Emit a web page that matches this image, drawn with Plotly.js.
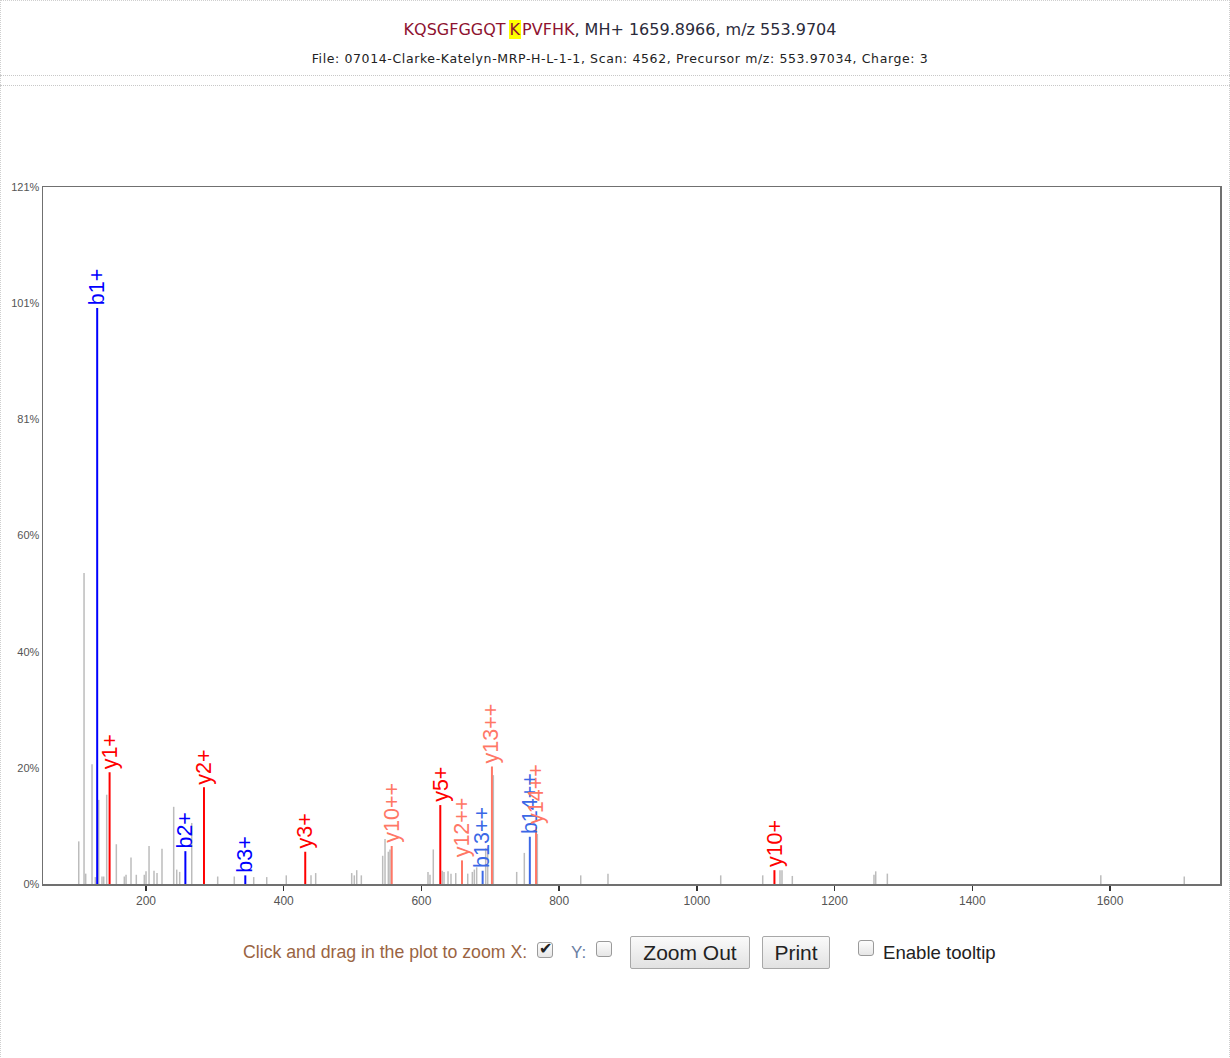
<!DOCTYPE html>
<html>
<head>
<meta charset="utf-8">
<script src="https://cdn.plot.ly/plotly-3.0.1.min.js"></script>
<style>
  html, body { margin:0; padding:0; background:#fff; }
  body { width:1230px; height:1058px; position:relative; overflow:hidden; }
  #frame { position:absolute; left:0; top:0; width:1228px; height:1056px; border-left:1px dotted #cfcfcf; border-right:1px dotted #cfcfcf; border-top:1px dotted #cfcfcf; }
  .hline { position:absolute; left:0; width:1230px; height:0; border-top:1px dotted #c8c8c8; }
  #t1 { position:absolute; top:20px; left:5px; width:1230px; text-align:center; font:16px "DejaVu Sans", Verdana, sans-serif; color:#2b2b3b; white-space:nowrap; }
  #t1 .pep { color:#8e1230; }
  #t1 .mod { color:#8e1230; background:#ffff00; padding:0 1px; margin:0 1px 0 3px; }
  #t2 { position:absolute; top:51px; left:5px; width:1230px; text-align:center; font:12.5px "DejaVu Sans", Verdana, sans-serif; letter-spacing:0.62px; color:#222; white-space:nowrap; }
  #plot { position:absolute; left:0; top:100px; width:1230px; height:830px; }
  .ctl { position:absolute; font-family:"Liberation Sans", Arial, sans-serif; white-space:nowrap; }
  .cb { position:absolute; width:16px; height:16px; border:1px solid #9a9a9a; border-radius:3px; background:linear-gradient(#fdfdfd,#e6e6e6); box-sizing:border-box; }
  .btn { position:absolute; height:33px; border:1px solid #a8a8a8; border-radius:2px; background:linear-gradient(#fafafa,#e2e2e2); box-sizing:border-box; font:21px "Liberation Sans", Arial, sans-serif; color:#222; text-align:center; line-height:31px; }
</style>
</head>
<body>
<div id="frame"></div>
<div class="hline" style="top:75px"></div>
<div class="hline" style="top:85px"></div>
<div id="t1"><span class="pep">KQSGFGGQT</span><span class="mod">K</span><span class="pep">PVFHK</span>, MH+ 1659.8966, m/z 553.9704</div>
<div id="t2">File: 07014-Clarke-Katelyn-MRP-H-L-1-1, Scan: 4562, Precursor m/z: 553.97034, Charge: 3</div>
<div id="plot"></div>

<div class="ctl" style="left:243px; top:942px; font-size:17.7px; color:#9a6442;">Click and drag in the plot to zoom X:</div>
<div class="cb" style="left:537px; top:942px;"><span style="position:absolute; left:1px; top:-4px; font:16px 'DejaVu Sans'; color:#222;">✔</span></div>
<div class="ctl" style="left:571px; top:943px; font-size:17px; color:#6a7fa4;">Y:</div>
<div class="cb" style="left:596px; top:941px;"></div>
<div class="btn" style="left:630px; top:936px; width:120px;">Zoom Out</div>
<div class="btn" style="left:762px; top:936px; width:68px;">Print</div>
<div class="cb" style="left:858px; top:940px;"></div>
<div class="ctl" style="left:883px; top:942px; font-size:18.6px; color:#222;">Enable tooltip</div>

<script>
// Unassigned (gray) peaks: m/z and relative intensity (%)
const grayMz  = [102.3, 110.0, 112.4, 121.6, 126.4, 131.3, 136.1, 138.6, 142.9, 156.9,
                 168.5, 171.0, 178.2, 185.9, 197.5, 200.0, 204.4, 211.6, 216.0, 223.2,
                 240.2, 244.6, 248.9, 266.4, 304.1, 328.2, 356.4, 375.3, 403.7, 439.6,
                 446.4, 498.7, 502.5, 506.0, 512.7, 543.7, 547.1, 551.9, 554.3, 609.5,
                 612.4, 617.2, 630.3, 632.8, 638.6, 642.9, 649.8, 667.2, 673.9, 676.8,
                 680.2, 693.3, 696.2, 704.4, 738.3, 749.4, 768.3, 831.3, 870.9, 1034.6,
                 1095.6, 1120.7, 1123.6, 1138.6, 1257.2, 1259.7, 1276.6, 1586.6, 1707.8];
const grayInt = [7.4, 54.0, 1.8, 20.8, 1.2, 14.6, 1.3, 1.3, 15.5, 6.9,
                 1.3, 1.6, 4.6, 1.6, 1.6, 2.2, 6.6, 2.3, 1.9, 6.1,
                 13.4, 2.5, 2.1, 10.6, 1.3, 1.3, 1.2, 1.2, 1.5, 1.5,
                 1.9, 1.9, 1.5, 2.4, 1.5, 4.9, 7.8, 5.6, 6.0, 2.1,
                 1.6, 6.0, 2.3, 2.1, 2.2, 1.8, 1.9, 1.8, 2.1, 2.5,
                 2.9, 6.2, 6.5, 18.9, 2.1, 5.4, 8.7, 1.5, 1.8, 1.5,
                 1.5, 2.4, 2.4, 1.4, 1.6, 2.2, 1.8, 1.5, 1.3];

// Annotated fragment ions
const ionLabels = ["b1+", "y1+", "b2+", "y2+", "b3+", "y3+", "y10++", "y5+", "y12++", "b13++", "y13++", "b14++", "y14++", "y10+"];
const ionMz     = [129.10, 147.11, 257.16, 284.17, 344.19, 431.24, 556.82, 627.36, 658.86, 688.87, 702.38, 757.40, 766.40, 1112.62];
const ionInt    = [100.0, 19.4, 5.7, 16.8, 1.5, 5.6, 6.6, 13.7, 4.1, 2.3, 20.4, 8.2, 9.9, 2.4];
const ionSeries = ["b+", "y+", "b+", "y+", "b+", "y+", "y++", "y+", "y++", "b++", "y++", "b++", "y++", "y+"];

// Axis ticks
const xTickVals = [200, 400, 600, 800, 1000, 1200, 1400, 1600];
const yMax = 121;
const yTickText = ["0%", "20%", "40%", "60%", "81%", "101%", "121%"];

const seriesColor = { "b+": "#0000ff", "y+": "#ff0000", "b++": "#3b68e6", "y++": "#ff7766" };

function sticks(xs, ys) {
  const X = [], Y = [];
  xs.forEach((x, i) => { X.push(x, x, null); Y.push(0, ys[i], null); });
  return { x: X, y: Y };
}

const traces = [];
const g = sticks(grayMz, grayInt);
traces.push({ type: "scatter", mode: "lines", x: g.x, y: g.y, line: { color: "#bcbcbc", width: 1.5 }, hoverinfo: "skip", showlegend: false });

Object.keys(seriesColor).forEach(s => {
  const xs = [], ys = [];
  ionSeries.forEach((t, i) => { if (t === s) { xs.push(ionMz[i]); ys.push(ionInt[i]); } });
  const st = sticks(xs, ys);
  traces.push({ type: "scatter", mode: "lines", x: st.x, y: st.y, line: { color: seriesColor[s], width: 2 }, hoverinfo: "skip", showlegend: false });
});

const annotations = ionLabels.map((lab, i) => ({
  x: ionMz[i], y: ionInt[i], xref: "x", yref: "y",
  text: lab, showarrow: false, textangle: -90,
  xanchor: "center", yanchor: "bottom", yshift: 1,
  font: { family: "Liberation Sans, Arial, sans-serif", size: 21.5, color: seriesColor[ionSeries[i]] }
}));

const yTickVals = yTickText.map((_, k) => k * yMax / (yTickText.length - 1));

const layout = {
  width: 1230, height: 830,
  margin: { l: 43, r: 10, t: 87, b: 46, pad: 0 },
  paper_bgcolor: "rgba(0,0,0,0)", plot_bgcolor: "#ffffff",
  showlegend: false,
  xaxis: {
    range: [50.4, 1759.7], tickvals: xTickVals, ticks: "outside", ticklen: 5, tickwidth: 1.5, tickcolor: "#333",
    showline: true, mirror: true, linecolor: "#707070", linewidth: 1.5, showgrid: false, zeroline: false,
    tickfont: { family: "Liberation Sans, Arial, sans-serif", size: 12, color: "#555" }
  },
  yaxis: {
    range: [0, yMax], tickvals: yTickVals, ticktext: yTickText, ticks: "",
    showline: true, mirror: true, linecolor: "#707070", linewidth: 1.5, showgrid: false, zeroline: false,
    tickfont: { family: "Liberation Sans, Arial, sans-serif", size: 11, color: "#555" }
  },
  annotations: annotations
};

Plotly.newPlot("plot", traces, layout, { staticPlot: true, displayModeBar: false });
</script>
</body>
</html>
